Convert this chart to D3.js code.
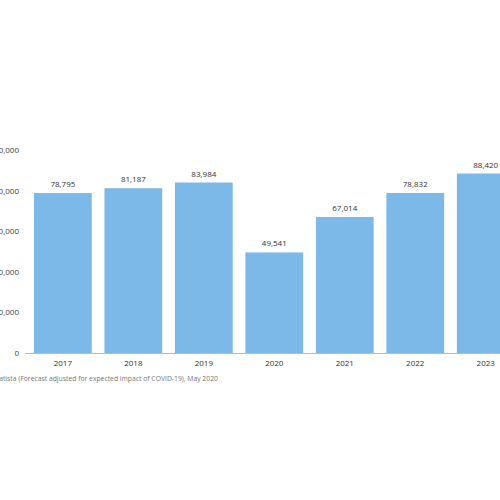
<!DOCTYPE html><html><head><meta charset="utf-8"><script src="https://cdn.jsdelivr.net/npm/d3@7"></script>
<style>body{margin:0;background:#fff}svg{display:block}</style></head><body><svg width="500" height="500"></svg>
<script>
const years=["2017","2018","2019","2020","2021","2022","2023"];
const values=[78795,81187,83984,49541,67014,78832,88420];
const yTicks=[0,20000,40000,60000,80000,100000];
const source="Statista (Forecast adjusted for expected impact of COVID-19), May 2020";
const svg=d3.select("svg");
const x=d3.scaleBand().domain(years).range([21.3,527.3]).padding(0.18);
const y=d3.scaleLinear().domain([0,100000]).range([353,150]);
const f=d3.format(",");
svg.selectAll("text.yt").data(yTicks).join("text").attr("x",19).attr("y",d=>y(d)+3)
 .attr("text-anchor","end").attr("font-family","Open Sans, sans-serif").attr("font-size",8).attr("fill","#444").text(d=>f(d));
svg.selectAll("rect").data(values).join("rect").attr("x",(d,i)=>x(years[i])).attr("width",x.bandwidth())
 .attr("y",d=>y(d)).attr("height",d=>353-y(d)).attr("fill","#7cb8e8");
svg.append("line").attr("x1",25).attr("x2",500).attr("y1",353.5).attr("y2",353.5).attr("stroke","#bbb");
svg.selectAll("text.v").data(values).join("text").attr("x",(d,i)=>x(years[i])+x.bandwidth()/2).attr("y",d=>y(d)-6)
 .attr("text-anchor","middle").attr("font-family","Open Sans, sans-serif").attr("font-size",8).attr("fill","#333").text(d=>f(d));
svg.selectAll("text.x").data(years).join("text").attr("x",d=>x(d)+x.bandwidth()/2).attr("y",366)
 .attr("text-anchor","middle").attr("font-family","Open Sans, sans-serif").attr("font-size",8).attr("fill","#333").text(d=>d);
svg.append("text").attr("x",-7).attr("y",381).attr("font-family","Open Sans, sans-serif").attr("font-size",6.8).attr("fill","#777").text(source);
</script></body></html>
